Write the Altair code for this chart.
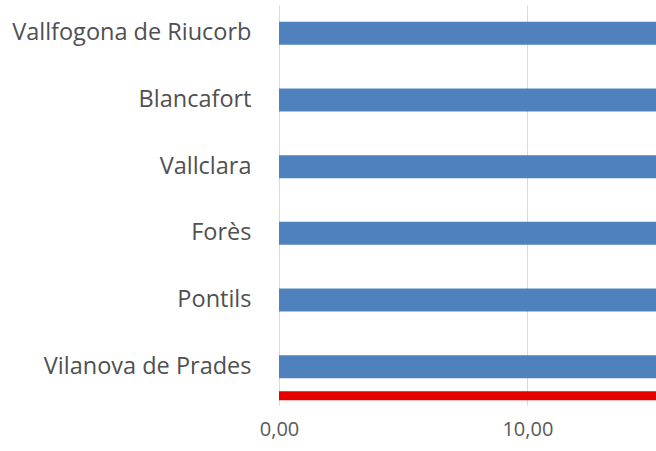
import altair as alt
import pandas as pd

# Data (bars run past the visible right edge of the cropped chart)
municipis = ["Vallfogona de Riucorb", "Blancafort", "Vallclara", "Forès", "Pontils", "Vilanova de Prades"]
valors = [24.0, 23.0, 22.0, 21.0, 20.0, 19.0]
ref_categoria = ["Vilanova de Prades"]
ref_valor = [25.0]
x_ticks = [0, 10]

df = pd.DataFrame({"municipi": municipis, "valor": valors})
df_ref = pd.DataFrame({"municipi": ref_categoria, "valor": ref_valor})

xscale = alt.Scale(domain=[0, 15.18], nice=False, zero=True)
yscale = alt.Scale(domain=municipis, paddingInner=0, paddingOuter=0)

x_axis = alt.Axis(
    title=None, values=x_ticks, domain=False, ticks=False,
    grid=True, gridColor="#D9D9D9", gridWidth=1,
    labelExpr="replace(format(datum.value, '.2f'), '.', ',')",
    labelFont="Open Sans", labelFontSize=20, labelColor="#595959",
    labelPadding=14, labelFlush=False, labelOverlap=False,
)
y_axis = alt.Axis(
    title=None, domain=False, ticks=False, grid=False,
    labelFont="Open Sans", labelFontSize=23.5, labelColor="#505050",
    labelPadding=28, labelLimit=400, labelOffset=-5,
)

bars = alt.Chart(df).mark_bar(color="#4F81BD", height=23, yOffset=-5, clip=True).encode(
    x=alt.X("valor:Q", scale=xscale, axis=x_axis),
    y=alt.Y("municipi:N", scale=yscale, sort=municipis, axis=y_axis),
)

ref = alt.Chart(df_ref).mark_bar(color="#E60000", height=9, yOffset=24, clip=True).encode(
    x=alt.X("valor:Q", scale=xscale),
    y=alt.Y("municipi:N", scale=yscale, sort=municipis),
)

chart = alt.layer(bars, ref).properties(
    width=377, height=400,
    autosize=alt.AutoSizeParams(type="none"),
    padding={"left": 279, "top": 5, "right": 0, "bottom": 46},
).configure(background="white").configure_view(stroke=None)

chart.save("out.html", embed_options={"renderer": "svg", "actions": False})
